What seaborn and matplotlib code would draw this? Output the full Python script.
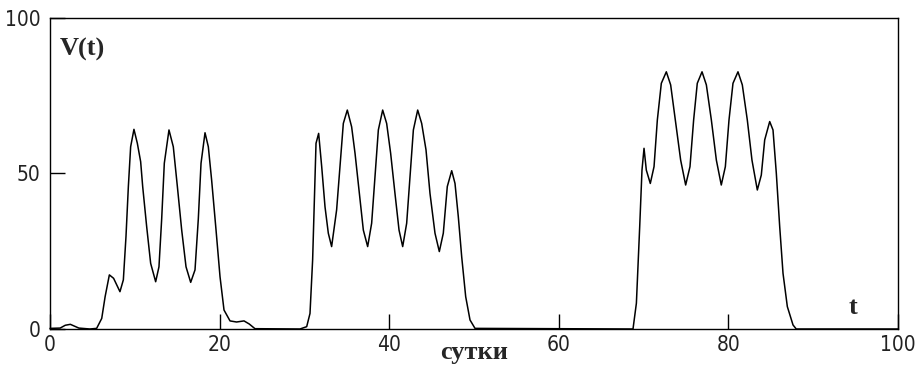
import numpy as np
import pandas as pd
import matplotlib
matplotlib.use("Agg")
import matplotlib.pyplot as plt
import seaborn as sns

# Три волны V(t)
wave1_t = [0, 1.2, 1.8, 2.4, 3.0, 3.4, 4.7, 5.5, 6.1, 6.5,
           7.0, 7.5, 8.25, 8.65, 8.96, 9.24, 9.51, 9.9, 10.3, 10.69,
           10.93, 11.4, 11.87, 12.46, 12.85, 13.17, 13.48, 14.03, 14.54, 15.02,
           15.53, 16.04, 16.59, 17.1, 17.49, 17.81, 18.28, 18.67, 19.06, 19.58,
           20.05, 20.52, 21.23, 22.0, 22.88, 23.5, 24.17]
wave1_v = [0.2, 0.3, 1.2, 1.5, 0.8, 0.3, 0, 0.2, 3.4, 10.4,
           17.4, 16.3, 12.0, 15.8, 29.7, 45.8, 58.6, 64.2, 59.7, 53.8,
           45.8, 32.9, 21.1, 15.2, 20.0, 35.4, 53.3, 64.0, 58.6, 45.8,
           31.8, 20.0, 15.0, 19.0, 35.4, 53.3, 63.1, 58.6, 47.9, 31.8,
           16.8, 6.1, 2.6, 2.25, 2.6, 1.6, 0.1]

wave2_t = [29.48, 30.27, 30.66, 30.97, 31.17, 31.37, 31.68, 32.04, 32.43, 32.82,
           33.21, 33.8, 34.2, 34.59, 35.06, 35.57, 35.97, 36.48, 36.95, 37.46,
           37.93, 38.33, 38.72, 39.23, 39.7, 40.17, 40.68, 41.16, 41.59, 42.06,
           42.45, 42.85, 43.36, 43.83, 44.34, 44.81, 45.4, 45.91, 46.38, 46.85,
           47.37, 47.76, 48.15, 48.55, 49.02, 49.53, 50.12]
wave2_v = [0, 0.75, 5.0, 22.2, 41.5, 59.7, 62.9, 52.2, 39.3, 30.8,
           26.5, 38.3, 52.2, 66.1, 70.4, 65.0, 56.5, 43.6, 31.8, 26.5,
           34.0, 49.0, 64.0, 70.4, 66.1, 56.5, 43.6, 31.8, 26.5, 34.0,
           49.0, 64.0, 70.4, 66.1, 57.6, 43.6, 30.8, 24.9, 30.8, 45.8,
           50.9, 46.8, 36.1, 23.2, 10.4, 2.9, 0.2]

wave3_t = [68.75, 69.15, 69.54, 69.81, 70.05, 70.32, 70.79, 71.23, 71.62, 72.09,
           72.68, 73.19, 73.74, 74.37, 74.96, 75.47, 75.9, 76.33, 76.89, 77.4,
           77.99, 78.58, 79.16, 79.64, 80.07, 80.54, 81.13, 81.64, 82.23, 82.78,
           83.41, 83.88, 84.28, 84.87, 85.26, 85.65, 86.05, 86.44, 86.95, 87.62,
           88.0, 100]
wave3_v = [0, 8.3, 32.9, 51.1, 58.1, 51.1, 46.8, 52.2, 67.2, 79.0,
           82.7, 78.5, 67.2, 54.3, 46.3, 52.2, 67.2, 79.0, 82.7, 78.5,
           67.2, 54.3, 46.3, 52.2, 67.2, 79.0, 82.7, 78.5, 67.2, 54.3,
           44.7, 49.5, 60.8, 66.7, 64.0, 50.1, 32.9, 17.9, 7.2, 1.3,
           0, 0]

x_ticks = [0, 20, 40, 60, 80, 100]
y_ticks = [0, 50, 100]

df = pd.DataFrame({
    "t": wave1_t + wave2_t + wave3_t,
    "V": wave1_v + wave2_v + wave3_v,
})

sns.set_style("white")
plt.rcParams['font.family'] = ['DejaVu Sans']
plt.rcParams['font.stretch'] = 'condensed'

fig = plt.figure(figsize=(9.18, 3.65), dpi=100)
ax = fig.add_axes([50 / 918, 36 / 365, 848 / 918, 311 / 365])

sns.lineplot(data=df, x="t", y="V", ax=ax, color="black", lw=1.1,
             sort=False, estimator=None, clip_on=False)

ax.set_xlim(0, 100)
ax.set_ylim(0, 100)
ax.set_xticks(x_ticks)
ax.set_yticks(y_ticks)
ax.tick_params(bottom=True, left=True, direction="in", length=11, width=1.0,
               color="black", labelsize=15, labelcolor="#222222")
ax.tick_params(axis="x", pad=4)
ax.tick_params(axis="y", pad=7)
for lab in ax.get_xticklabels() + ax.get_yticklabels():
    lab.set_fontstretch('condensed')
for s in ax.spines.values():
    s.set_color("black")
    s.set_linewidth(1.0)
ax.set_xlabel("")
ax.set_ylabel("")

serif = ['Liberation Serif', 'DejaVu Serif']
ax.text(1.2, 90, "V(t)", family=serif, weight="bold", fontsize=19,
        va="center", ha="left")
ax.text(94.7, 7, "t", family=serif, weight="bold", fontsize=19,
        va="center", ha="center")
ax.text(50, -7.5, "сутки", family=serif, weight="bold", fontsize=19,
        va="center", ha="center")

fig.savefig("out.png", dpi=100)
